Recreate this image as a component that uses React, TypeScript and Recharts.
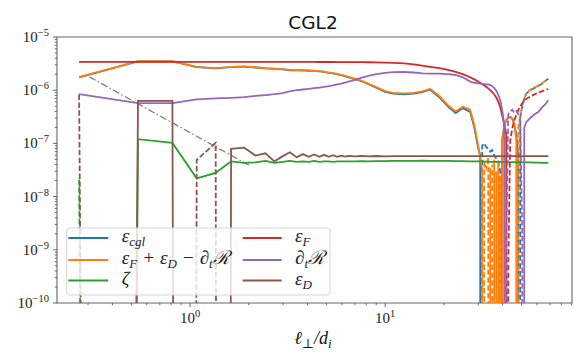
import React from 'react';
import { LineChart, Line, XAxis, YAxis, ReferenceArea } from 'recharts';

// sample positions, ℓ⊥/d_i
const ell = [
  0.27, 0.541, 0.812, 1.082, 1.353, 1.623, 1.894, 2.164, 2.435, 2.705, 2.976, 3.246,
  3.517, 3.787, 4.058, 4.328, 4.599, 4.869, 5.14, 5.41, 5.681, 5.951, 6.222, 6.492,
  7.0, 7.6, 8.2, 9.0, 10, 11, 12.5, 14, 15.5, 17, 19, 21, 23, 25,
  27.29, 28.61, 29.99, 30.7,
  31.44, 32.19, 32.96, 33.75, 34.56, 35.38, 36.22, 37.09, 37.97, 38.88,
  39.81, 40.76, 41.74, 42.73, 43.75, 44.8, 45.87, 46.97, 48.09, 49.24, 50.42, 51.62, 52.85,
  55.41, 58.09, 60.9, 63.85, 66.15, 68.54,
];

// signed values (negative parts are drawn dashed, as |value|)
const epsCgl = [
  1.74e-6, 3.47e-6, 3.47e-6, 2.72e-6, 2.57e-6, 2.72e-6, 2.77e-6, 2.67e-6, 2.57e-6, 2.52e-6, 2.47e-6, 2.37e-6,
  2.35e-6, 2.35e-6, 2.32e-6, 2.3e-6, 2.27e-6, 2.2e-6, 2.12e-6, 2.07e-6, 1.99e-6, 1.92e-6, 1.84e-6, 1.75e-6,
  1.62e-6, 1.47e-6, 1.3e-6, 1.12e-6, 9.3e-7, 8.6e-7, 8.4e-7, 8.6e-7, 9.2e-7, 1.02e-6, 7.3e-7, 4.9e-7, 3.7e-7, 4.6e-7,
  3.9e-7, 2.0e-7, 8.0e-8, 6.0e-8,
  -9.0e-8, -1.0e-7, -8.5e-8, -8.0e-8, -7.0e-8, -7.5e-8, -6.0e-8, -5.2e-8, -4.5e-8, -3.0e-8,
  1.1e-7, 2.1e-7, 2.7e-7, 3.0e-7, 3.1e-7, 2.9e-7, 2.3e-7, 1.5e-7, 6.0e-8, -3.0e-7, -5.0e-7, -6.8e-7, -8.6e-7,
  -1.0e-6, -1.1e-6, -1.2e-6, -1.33e-6, -1.48e-6, -1.65e-6,
];

const epsSum = [
  1.76e-6, 3.5e-6, 3.5e-6, 2.75e-6, 2.6e-6, 2.75e-6, 2.8e-6, 2.7e-6, 2.6e-6, 2.55e-6, 2.5e-6, 2.4e-6,
  2.38e-6, 2.37e-6, 2.35e-6, 2.32e-6, 2.29e-6, 2.23e-6, 2.15e-6, 2.1e-6, 2.02e-6, 1.95e-6, 1.87e-6, 1.78e-6,
  1.65e-6, 1.5e-6, 1.33e-6, 1.15e-6, 9.6e-7, 8.9e-7, 8.7e-7, 8.9e-7, 9.5e-7, 1.06e-6, 7.7e-7, 5.2e-7, 4.0e-7, 4.9e-7,
  4.3e-7, 2.3e-7, 9.0e-8, 5.5e-8,
  3.0e-8, -4.5e-8, -3.5e-8, -5.5e-8, 3.5e-8, -4.0e-8, 5.0e-8, -3.0e-8, 4.5e-8, -2.5e-8,
  1.2e-7, 2.2e-7, 2.8e-7, 3.1e-7, 3.2e-7, 3.0e-7, 2.4e-7, 1.2e-7, -2.0e-7, -3.2e-7, -5.2e-7, -7.0e-7, -8.8e-7,
  -1.02e-6, -1.12e-6, -1.22e-6, -1.35e-6, -1.5e-6, -1.67e-6,
];

const zeta = [
  -2.1e-8, 1.2e-7, 1.02e-7, 2.2e-8, 2.8e-8, 4.6e-8, 4.3e-8, 4.4e-8, 4.7e-8, 4.3e-8, 4.5e-8, 4.7e-8,
  4.5e-8, 4.6e-8, 4.5e-8, 4.7e-8, 4.5e-8, 4.6e-8, 4.6e-8, 4.5e-8, 4.6e-8, 4.6e-8, 4.6e-8, 4.6e-8,
  4.6e-8, 4.65e-8, 4.6e-8, 4.65e-8, 4.65e-8, 4.7e-8, 4.7e-8, 4.7e-8, 4.75e-8, 4.7e-8, 4.7e-8, 4.7e-8, 4.65e-8, 4.65e-8,
  4.6e-8, 4.6e-8, 4.6e-8, 4.6e-8,
  4.6e-8, 4.55e-8, 4.55e-8, 4.55e-8, 4.5e-8, 4.5e-8, 4.5e-8, 4.5e-8, 4.5e-8, 4.5e-8,
  4.5e-8, 4.5e-8, 4.45e-8, 4.45e-8, 4.45e-8, 4.45e-8, 4.45e-8, 4.4e-8, 4.4e-8, 4.4e-8, 4.4e-8, 4.4e-8, 4.4e-8,
  4.4e-8, 4.35e-8, 4.35e-8, 4.3e-8, 4.3e-8, 4.3e-8,
];

const epsF = [
  3.4e-6, 3.4e-6, 3.4e-6, 3.4e-6, 3.4e-6, 3.4e-6, 3.4e-6, 3.4e-6, 3.4e-6, 3.4e-6, 3.4e-6, 3.4e-6,
  3.4e-6, 3.4e-6, 3.4e-6, 3.4e-6, 3.39e-6, 3.39e-6, 3.39e-6, 3.39e-6, 3.38e-6, 3.38e-6, 3.38e-6, 3.38e-6,
  3.37e-6, 3.36e-6, 3.35e-6, 3.33e-6, 3.3e-6, 3.26e-6, 3.18e-6, 3.05e-6, 2.9e-6, 2.75e-6, 2.6e-6, 2.4e-6, 2.2e-6, 2.0e-6,
  1.75e-6, 1.6e-6, 1.45e-6, 1.38e-6,
  1.3e-6, 1.22e-6, 1.16e-6, 1.08e-6, 1.0e-6, 9.2e-7, 8.3e-7, 7.3e-7, 6.2e-7, 4.8e-7,
  3.3e-7, 2.3e-7, 1.5e-7, -5e-10, -1.1e-7, -1.9e-7, -2.7e-7, -3.4e-7, -4.2e-7, -5.0e-7, -5.7e-7, -6.3e-7, -6.8e-7,
  -7.6e-7, -8.3e-7, -9.0e-7, -9.6e-7, -1.0e-6, -1.05e-6,
];

const dtR = [
  8.4e-7, 5.7e-7, 5.7e-7, 6.7e-7, 7.0e-7, 7.2e-7, 7.4e-7, 7.8e-7, 8.1e-7, 8.4e-7, 8.8e-7, 9.5e-7,
  1.0e-6, 1.03e-6, 1.06e-6, 1.09e-6, 1.12e-6, 1.15e-6, 1.19e-6, 1.23e-6, 1.28e-6, 1.33e-6, 1.39e-6, 1.45e-6,
  1.57e-6, 1.72e-6, 1.86e-6, 2.0e-6, 2.12e-6, 2.18e-6, 2.2e-6, 2.15e-6, 2.08e-6, 2.05e-6, 2.05e-6, 2.0e-6, 1.93e-6, 1.75e-6,
  1.45e-6, 1.38e-6, 1.35e-6, 1.33e-6,
  1.32e-6, 1.3e-6, 1.29e-6, 1.28e-6, 1.25e-6, 1.2e-6, 1.1e-6, 9.8e-7, 8.3e-7, 6.5e-7,
  4.2e-7, 2.2e-7, -1e-9, -3.5e-7, -4.0e-7, -4.3e-7, -3.8e-7, -4.1e-7, -3.6e-7, -3.0e-7, -2e-9, 2.0e-7, 2.5e-7,
  3.0e-7, 3.5e-7, 3.9e-7, 4.8e-7, 5.4e-7, 6.5e-7,
];

const epsD = [
  -8.3e-7, 6.3e-7, 6.3e-7, -4.9e-8, -1.02e-7, 7.9e-8, 8.3e-8, 5.9e-8, 6.5e-8, 4.6e-8, 5.7e-8, 6.8e-8,
  5.5e-8, 6.3e-8, 5.6e-8, 6.2e-8, 5.6e-8, 6.1e-8, 5.6e-8, 6.0e-8, 5.6e-8, 5.9e-8, 5.65e-8, 5.85e-8,
  5.7e-8, 5.85e-8, 5.7e-8, 5.8e-8, 5.72e-8, 5.78e-8, 5.75e-8, 5.75e-8, 5.75e-8, 5.75e-8, 5.75e-8, 5.75e-8, 5.75e-8, 5.75e-8,
  5.75e-8, 5.75e-8, 5.75e-8, 5.75e-8,
  5.75e-8, 5.75e-8, 5.75e-8, 5.75e-8, 5.75e-8, 5.75e-8, 5.75e-8, 5.75e-8, 5.75e-8, 5.75e-8,
  5.75e-8, 5.75e-8, 5.75e-8, 5.75e-8, 5.75e-8, 5.75e-8, 5.75e-8, 5.75e-8, 5.75e-8, 5.75e-8, 5.75e-8, 5.75e-8, 5.75e-8,
  5.75e-8, 5.75e-8, 5.75e-8, 5.75e-8, 5.75e-8, 5.75e-8,
];

// dash-dot guide line
const refEll = [0.305, 2.0];
const refVal = [1.78e-6, 3.9e-8];

const xTicks = [0.3, 0.4, 0.5, 0.6, 0.7, 0.8, 0.9, 1, 2, 3, 4, 5, 6, 7, 8, 9, 10, 20, 30, 40, 50, 60, 70, 80, 90];
const yTicks: number[] = [];
for (let e = -10; e <= -6; e++) {
  for (let m = 1; m <= 9; m++) yTicks.push(Number((m * Math.pow(10, e)).toPrecision(3)));
}
yTicks.push(1e-5);

const X_DOMAIN = [0.208, 90.7];
const Y_DOMAIN = [1e-10, 1e-5];
const FLOOR = 1e-150; // what log axes do with non-positive values: push them far below

const series = [
  { key: 'cgl', values: epsCgl, color: '#1f77b4' },
  { key: 'sum', values: epsSum, color: '#ff7f0e' },
  { key: 'zeta', values: zeta, color: '#2ca02c' },
  { key: 'epsF', values: epsF, color: '#d62728' },
  { key: 'dtR', values: dtR, color: '#9467bd' },
  { key: 'epsD', values: epsD, color: '#8c564b' },
];

const data = ell.map((x, i) => {
  const row: Record<string, number> = { x };
  series.forEach((s) => {
    const v = s.values[i];
    row[s.key + 'P'] = v > 0 ? v : FLOOR;
    row[s.key + 'N'] = v < 0 ? -v : FLOOR;
  });
  return row;
});

const refData = refEll.map((x, i) => ({ x, y: refVal[i] }));

const AXIS = '#666';
const SERIF = "'Liberation Serif', 'DejaVu Serif', serif";
const SANS = "'DejaVu Sans', sans-serif";

const isMajor = (v: number) => {
  const lg = Math.log10(v);
  return Math.abs(lg - Math.round(lg)) < 1e-6;
};
const expText = (v: number) => {
  const e = Math.round(Math.log10(v));
  return e < 0 ? '\u2212' + Math.abs(e) : String(e);
};

const XTick = (props: any) => {
  const { x, y, payload } = props;
  const major = isMajor(payload.value);
  return (
    <g>
      <line x1={x} x2={x} y1={y} y2={y + (major ? 4 : 2.2)} stroke={AXIS} strokeWidth={1} />
      {major && (
        <text x={x} y={y + 20} textAnchor="middle" fontFamily={SERIF} fontSize={15} fill="#222">
          10<tspan dy={-6} fontSize={10.5}>{expText(payload.value)}</tspan>
        </text>
      )}
    </g>
  );
};

const YTick = (props: any) => {
  const { x, y, payload } = props;
  const major = isMajor(payload.value);
  return (
    <g>
      <line x1={x - (major ? 4 : 2.2)} x2={x} y1={y} y2={y} stroke={AXIS} strokeWidth={1} />
      {major && (
        <text x={x - 8} y={y + 5} textAnchor="end" fontFamily={SERIF} fontSize={15} fill="#222">
          10<tspan dy={-6} fontSize={10.5}>{expText(payload.value)}</tspan>
        </text>
      )}
    </g>
  );
};

// math labels as segments; sub segments are lowered and shrunk
type Seg = { t: string; sub?: boolean; dx?: number };
const renderMath = (segs: Seg[]) => {
  let lowered = false;
  return segs.map((s, i) => {
    let dy = 0;
    if (s.sub && !lowered) { dy = 4; lowered = true; }
    if (!s.sub && lowered) { dy = -4; lowered = false; }
    return (
      <tspan key={i} dy={dy || undefined} dx={s.dx} fontSize={s.sub ? 13 : undefined}>{s.t}</tspan>
    );
  });
};

const legendCol1: { color: string; label: Seg[] }[] = [
  { color: '#1f77b4', label: [{ t: 'ε' }, { t: 'cgl', sub: true }] },
  {
    color: '#ff7f0e',
    label: [
      { t: 'ε' }, { t: 'F', sub: true }, { t: '+', dx: 5 }, { t: 'ε', dx: 5 }, { t: 'D', sub: true },
      { t: '−', dx: 5 }, { t: '∂', dx: 5 }, { t: 't', sub: true }, { t: 'ℛ' },
    ],
  },
  { color: '#2ca02c', label: [{ t: 'ζ' }] },
];
const legendCol2: { color: string; label: Seg[] }[] = [
  { color: '#d62728', label: [{ t: 'ε' }, { t: 'F', sub: true }] },
  { color: '#9467bd', label: [{ t: '∂' }, { t: 't', sub: true }, { t: 'ℛ' }] },
  { color: '#8c564b', label: [{ t: 'ε' }, { t: 'D', sub: true }] },
];
const ROWS = [230, 252, 272.5];

const Overlay = () => (
  <svg width={578} height={354} style={{ position: 'absolute', left: 0, top: 0, pointerEvents: 'none' }}>
    <text x={305} y={21} textAnchor="middle" fontFamily={SANS} fontSize={18.5} fill="#111">CGL2</text>
    <text x={305} y={336} textAnchor="middle" fontFamily={SERIF} fontStyle="italic" fontSize={18} fill="#111">
      {renderMath([{ t: 'ℓ' }, { t: '⊥', sub: true }, { t: '/d' }, { t: 'i', sub: true }])}
    </text>
    <rect x={58.7} y={220} width={263.3} height={67} rx={3} fill="#fff" fillOpacity={0.8} stroke="#d6d6d6" strokeWidth={1} />
    {legendCol1.map((e, i) => (
      <g key={'a' + i}>
        <line x1={60.3} x2={100.3} y1={ROWS[i]} y2={ROWS[i]} stroke={e.color} strokeWidth={2} />
        <text x={113.7} y={ROWS[i] + 4} fontFamily={SERIF} fontStyle="italic" fontSize={19} fill="#222">
          {renderMath(e.label)}
        </text>
      </g>
    ))}
    {legendCol2.map((e, i) => (
      <g key={'b' + i}>
        <line x1={234.7} x2={273.7} y1={ROWS[i]} y2={ROWS[i]} stroke={e.color} strokeWidth={2} />
        <text x={287} y={ROWS[i] + 4} fontFamily={SERIF} fontStyle="italic" fontSize={19} fill="#222">
          {renderMath(e.label)}
        </text>
      </g>
    ))}
  </svg>
);

const App: React.FC = () => {
  return (
    <div style={{ position: 'relative', width: 578, height: 354 }}>
      <LineChart width={578} height={354} data={data} margin={{ top: 29, right: 14, bottom: 0, left: 0 }}>
        <XAxis
          dataKey="x"
          type="number"
          scale="log"
          domain={X_DOMAIN}
          allowDataOverflow
          ticks={xTicks}
          interval={0}
          tickSize={0}
          tickMargin={0}
          axisLine={false}
          tickLine={false}
          tick={XTick}
          height={59}
        />
        <YAxis
          type="number"
          scale="log"
          domain={Y_DOMAIN}
          allowDataOverflow
          ticks={yTicks}
          interval={0}
          tickSize={0}
          tickMargin={0}
          axisLine={false}
          tickLine={false}
          tick={YTick}
          width={49}
        />
        <Line
          data={refData}
          dataKey="y"
          stroke="#7f7f7f"
          strokeWidth={1.3}
          strokeDasharray="7 2.5 1.5 2.5"
          dot={false}
          isAnimationActive={false}
        />
        {series.flatMap((s) => [
          <Line
            key={s.key + 'P'}
            dataKey={s.key + 'P'}
            stroke={s.color}
            strokeWidth={1.8}
            dot={false}
            isAnimationActive={false}
          />,
          <Line
            key={s.key + 'N'}
            dataKey={s.key + 'N'}
            stroke={s.color}
            strokeWidth={1.8}
            strokeDasharray="5.5 2.4"
            dot={false}
            isAnimationActive={false}
          />,
        ])}
        <ReferenceArea
          x1={X_DOMAIN[0]}
          x2={X_DOMAIN[1]}
          y1={Y_DOMAIN[0]}
          y2={Y_DOMAIN[1]}
          fill="none"
          fillOpacity={0}
          stroke={AXIS}
          strokeWidth={1.1}
        />
      </LineChart>
      <Overlay />
    </div>
  );
};

export default App;
